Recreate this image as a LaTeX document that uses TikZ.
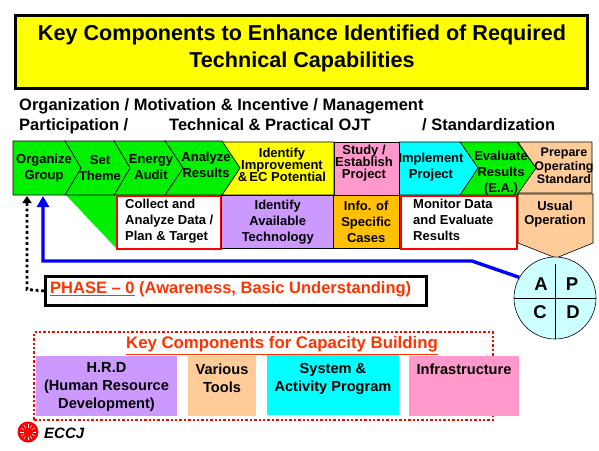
\documentclass[tikz,border=0pt]{standalone}
\usepackage{fontspec}
\setmainfont{Liberation Sans}
\usetikzlibrary{positioning,arrows.meta,calc}
\definecolor{ecgreen}{HTML}{00F000}
\definecolor{ecyellow}{HTML}{FFFF00}
\definecolor{ecpink}{HTML}{FF99CC}
\definecolor{eccyan}{HTML}{00FFFF}
\definecolor{ecpeach}{HTML}{FFCC99}
\definecolor{eclilac}{HTML}{CC99FF}
\definecolor{ecgold}{HTML}{FFC000}
\definecolor{ecred}{HTML}{FF3300}
\definecolor{ecblue}{HTML}{0000FF}
\definecolor{ecpale}{HTML}{CCFFFF}
\tikzset{
  chev/.style={draw=black,line width=0.6pt},
  steptext/.style={font=\fontsize{13}{13.5}\selectfont\bfseries,align=center,inner sep=0pt},
  subtext/.style={font=\fontsize{13}{16}\selectfont\bfseries,align=center,inner sep=0pt},
  compbox/.style={font=\fontsize{14.6}{18}\selectfont\bfseries,align=center,inner sep=0pt,anchor=north west},
  headline/.style={anchor=base west,inner sep=0pt,font=\fontsize{16.5}{17}\selectfont\bfseries},
  pdca/.style={font=\fontsize{18.5}{18}\selectfont\bfseries,inner sep=0pt},
}
\begin{document}
\begin{tikzpicture}[x=1pt,y=-1pt]
\useasboundingbox (0,0) rectangle (599,450);
% title
\node[draw=black,line width=2.6pt,fill=ecyellow,minimum width=572pt,minimum height=73pt,anchor=north west,inner sep=0pt] (title) at (14,14) {};
\node[align=center,font=\fontsize{21.6}{27}\selectfont\bfseries,inner sep=0pt] (titletext) at (302,48.5)
  {Key Components to Enhance Identified of Required\\Technical Capabilities};
\node[headline] (orgline) at (19,110) {Organization / Motivation \& Incentive / Management};
\node[headline] (partline) at (19,130) {Participation /};
\node[headline] (ojtline) at (169,130) {Technical \& Practical OJT};
\node[headline] (stdline) at (422,130) {/ Standardization};
% process row, back to front
\fill[ecgreen] (66,195) -- (116,248) -- (116,195) -- cycle;
\filldraw[chev,fill=ecpeach] (518,142) -- (592,142) -- (592,193) -- (518,193) -- (536,168) -- cycle;
\filldraw[chev,fill=ecgreen] (460,142) -- (517,142) -- (536,168) -- (517,195) -- (460,195) -- (478,168) -- cycle;
\filldraw[chev,fill=eccyan] (399,142) -- (460,142) -- (478,168) -- (460,195) -- (399,195) -- cycle;
\filldraw[chev,fill=ecpink] (334,142) -- (399,142) -- (399,195) -- (334,195) -- cycle;
\filldraw[chev,fill=ecyellow] (222,142) -- (334,142) -- (334,195) -- (222,195) -- (240,168) -- cycle;
\filldraw[chev,fill=ecgreen] (165,141) -- (222,141) -- (240,168) -- (222,195) -- (165,195) -- (183,168) -- cycle;
\filldraw[chev,fill=ecgreen] (114,141) -- (165,141) -- (183,168) -- (165,195) -- (114,195) -- (130,168) -- cycle;
\filldraw[chev,fill=ecgreen] (65,141) -- (114,141) -- (130,168) -- (114,195) -- (65,195) -- (81,168) -- cycle;
\filldraw[chev,fill=ecgreen] (13,141) -- (65,141) -- (81,168) -- (65,195) -- (13,195) -- cycle;
\node[steptext] (organize) at (44,168) {Organize\\[2.5pt]Group};
\node[steptext] (settheme) at (100,168) {Set\\[2.5pt]Theme};
\node[steptext] (energy) at (151,167) {Energy\\[2.5pt]Audit};
\node[steptext] (analyze) at (206,165) {Analyze\\[2.5pt]Results};
\node[steptext] (improve) at (282,165) {Identify\\[-1.5pt]Improvement\\[-1.5pt]\&\,EC Potential};
\node[steptext] (study) at (364,163) {Study /\\[-1.5pt]Establish\\[-1.5pt]Project};
\node[steptext] (implement) at (431,167) {Implement\\[2.5pt]Project};
\node[steptext] (evaluate) at (501,173) {Evaluate\\[2.5pt]Results\\[2.5pt](E.A.)};
\node[steptext,font=\fontsize{12.5}{13.5}\selectfont\bfseries] (prepare) at (564,166) {Prepare\\Operating\\Standard};
% lower row
\node[draw=red,line width=1.5pt,fill=white,minimum width=104pt,minimum height=53pt,anchor=north west,inner sep=0pt] (collect) at (116,195) {};
\node[subtext,align=left,anchor=north west] (collecttext) at (125,199) {Collect and\\Analyze Data /\\Plan \& Target};
\node[fill=eclilac,minimum width=113pt,minimum height=53pt,anchor=north west,inner sep=0pt,subtext,draw=black,line width=0.5pt] (identify) at (221,195) {Identify\\Available\\Technology};
\node[fill=ecgold,minimum width=66pt,minimum height=53pt,anchor=north west,inner sep=0pt,subtext,draw=black,line width=0.5pt] (info) at (333,195) {Info. of\\Specific\\Cases};
\node[draw=red,line width=1.5pt,fill=white,minimum width=116pt,minimum height=53pt,anchor=north west,inner sep=0pt] (monitor) at (400,195) {};
\node[subtext,align=left,anchor=north west] (monitortext) at (413,199) {Monitor Data\\and Evaluate\\Results};
\filldraw[chev,fill=ecpeach] (518,194) -- (593,194) -- (593,243) -- (556,258) -- (518,243) -- cycle;
\node[subtext,font=\fontsize{13}{14}\selectfont\bfseries] (usual) at (555,214) {Usual\\Operation};
% PDCA circle
\node[circle,draw=black,line width=0.6pt,fill=ecpale,minimum size=82pt,inner sep=0pt] (wheel) at (555,298) {};
\draw[line width=0.6pt] (wheel.west) -- (wheel.east);
\draw[line width=0.6pt] ($(wheel.north)+(0,7)$) -- (wheel.south);
\node[pdca] (actA) at (541,284) {A};
\node[pdca] (actP) at (572,284) {P};
\node[pdca] (actC) at (540,312) {C};
\node[pdca] (actD) at (573,312) {D};
% feedback
\coordinate (bend) at (472,261);
\coordinate (up) at (43,261);
\draw[ecblue,line width=3.4pt,-{Triangle[length=11pt,width=12pt]}] (wheel.150) -- (bend) -- (up) -- (43,196);
% phase box
\node[draw=black,line width=2.8pt,fill=white,minimum width=381pt,minimum height=29pt,anchor=north west,inner sep=0pt] (phase) at (44,275) {};
\node[anchor=west,inner sep=0pt,text=ecred,font=\fontsize{16.5}{18}\selectfont\bfseries] (phasetext) at (50,289) {\underline{PHASE – 0} (Awareness, Basic Understanding)};
\coordinate (phaseup) at (27,289.5);
\draw[black,line width=2.8pt,dash pattern=on 2.8pt off 2.8pt,-{Triangle[length=7pt,width=9pt]}] (phase.west) -- (phaseup) -- (27,196);
% capacity building
\node[draw=red,line width=2.4pt,dash pattern=on 2.4pt off 2pt,minimum width=459pt,minimum height=88pt,anchor=north west,inner sep=0pt] (capacity) at (33,331) {};
\node[inner sep=0pt,text=ecred,font=\fontsize{16.8}{18}\selectfont\bfseries] (captitle) at (282,345.5) {\underline{Key Components for Capacity Building}};
\node[compbox,fill=eclilac,minimum width=141pt,minimum height=60pt] (hrd) at (36,356) {};
\node[compbox,anchor=north] (hrdtext) at (106.5,362.5) {H.R.D\\(Human Resource\\Development)};
\node[compbox,fill=ecpeach,minimum width=68pt,minimum height=60pt] (tools) at (188,356) {};
\node[compbox,anchor=north] (toolstext) at (222,364) {Various\\Tools};
\node[compbox,fill=eccyan,minimum width=132pt,minimum height=60pt] (system) at (267,355) {};
\node[compbox,anchor=north] (systemtext) at (333,363) {System \&\\Activity Program};
\node[compbox,fill=ecpink,minimum width=110pt,minimum height=60pt] (infra) at (409,356) {};
\node[compbox,anchor=north] (infratext) at (464,364) {Infrastructure};
% logo
\node[circle,fill=red,minimum size=21pt,inner sep=0pt] (logo) at (28,432) {};
\foreach \ang in {0,30,...,330}
  \draw[white,line width=0.5pt] ($(logo)+(\ang:4.5pt)$) -- ($(logo)+(\ang:8pt)$);
\node[anchor=west,inner sep=0pt,font=\fontsize{15}{16}\selectfont\bfseries\itshape] (eccj) at (44,433) {ECCJ};
\end{tikzpicture}
\end{document}
